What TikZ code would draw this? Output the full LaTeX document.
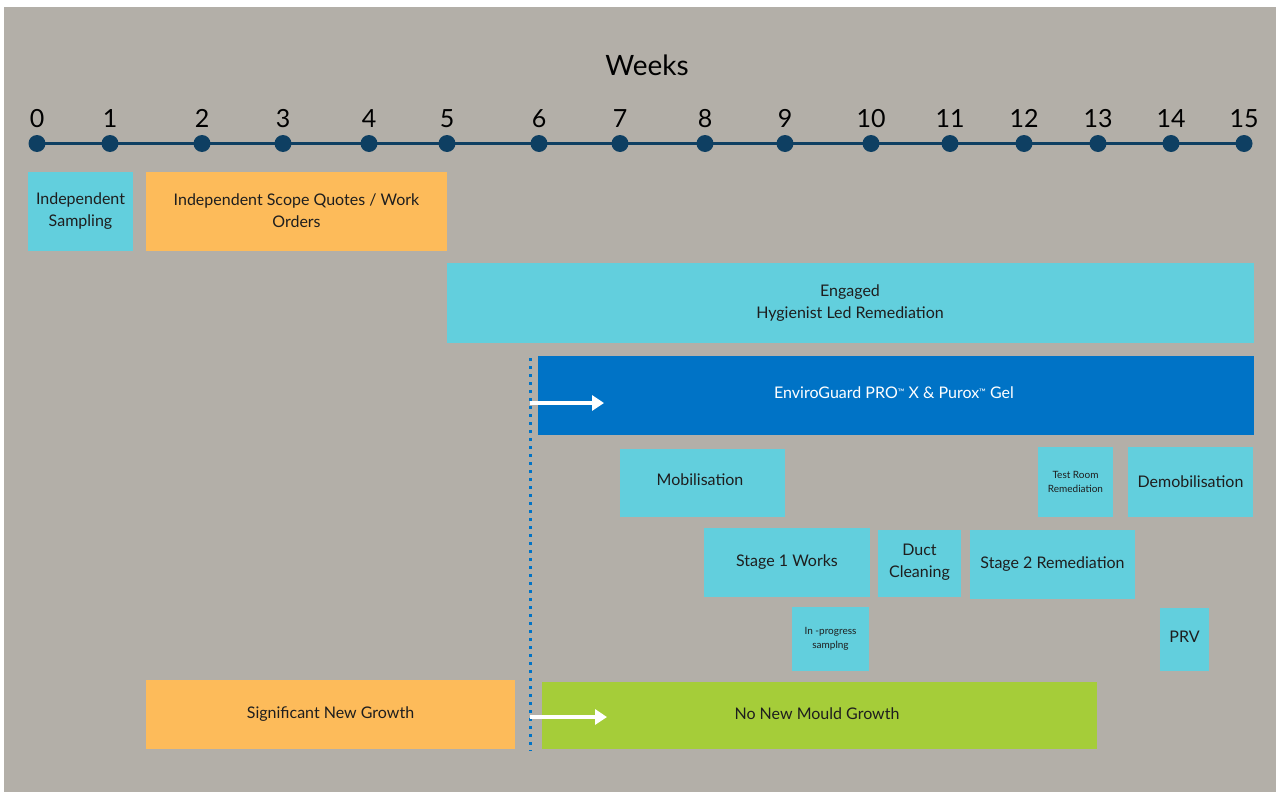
\documentclass[tikz,border=0pt]{standalone}
\usepackage{fontspec}
\setmainfont{Lato}
\usetikzlibrary{arrows.meta}
\definecolor{bgG}{HTML}{B3AFA8}
\definecolor{axisC}{HTML}{0E3F62}
\definecolor{cyanB}{HTML}{62CFDD}
\definecolor{orangeB}{HTML}{FDBB5A}
\definecolor{blueB}{HTML}{0073C6}
\definecolor{greenB}{HTML}{A5CD39}
\definecolor{txtC}{HTML}{1E1E1E}
\newcommand{\tmmark}{\raisebox{3pt}{\fontsize{9}{9}\selectfont ™}}
\tikzset{
  box/.style={inner sep=0pt, align=center, text=txtC, font=\fontsize{16}{22}\selectfont},
  smallbox/.style={inner sep=0pt, align=center, text=txtC, font=\fontsize{10}{14}\selectfont},
  dotn/.style={circle, fill=axisC, minimum size=17pt, inner sep=0pt},
  wk/.style={text=black, font=\fontsize{25}{25}\selectfont},
  warrow/.style={white, line width=3.5pt, -{Triangle[length=12pt,width=15pt]}}
}
\begin{document}
\begin{tikzpicture}[x=1pt,y=-1pt]
\useasboundingbox (0,0) rectangle (1276,792);
\fill[white] (0,0) rectangle (1276,792);
\fill[bgG] (4,7) rectangle (1276,792);

\node[text=black, font=\fontsize{28}{28}\selectfont] (title) at (647,65) {Weeks};

% axis
\foreach \n/\x in {0/37,1/110,2/202,3/283,4/369,5/447,6/539,7/620,8/705,9/785,10/871,11/950,12/1024,13/1098,14/1171,15/1244}{
  \coordinate (d\n) at (\x,143.5);
}
\draw[axisC, line width=3pt] (d0) -- (d15);
\foreach \n in {0,...,15}{
  \node[dotn] (p\n) at (d\n) {};
  \node[wk] (w\n) at ([yshift=25pt]d\n) {\n};
}

% boxes
\fill[cyanB] (28,172) rectangle (133,251);
\node[box] (indsamp) at (80.5,211) {Independent\\Sampling};
\fill[orangeB] (146,172) rectangle (447,251);
\node[box] (quotes) at (296.5,211) {Independent Scope Quotes / Work\\Orders};
\fill[cyanB] (447,263) rectangle (1254,343);
\node[box] (engaged) at (850,303) {Engaged\\Hygienist Led Remediation};
\fill[blueB] (538,356) rectangle (1254,435);
\node[box, text=white] (enviro) at (894,393) {EnviroGuard PRO\tmmark\ X \& Purox\tmmark\ Gel};
\fill[cyanB] (620,449) rectangle (785,517);
\node[box] (mob) at (700,480) {Mobilisation};
\fill[cyanB] (1038,447) rectangle (1113,517);
\node[smallbox] (test) at (1075.5,482) {Test Room\\Remediation};
\fill[cyanB] (1128,447) rectangle (1253,517);
\node[box] (demob) at (1190.5,482) {Demobilisation};
\fill[cyanB] (704,528) rectangle (870,597);
\node[box] (stage1) at (787,562) {Stage 1 Works};
\fill[cyanB] (878,530) rectangle (961,597);
\node[box] (duct) at (919.5,562) {Duct\\Cleaning};
\fill[cyanB] (970,530) rectangle (1135,599);
\node[box] (stage2) at (1052.5,564) {Stage 2 Remediation};
\fill[cyanB] (792,607) rectangle (869,671);
\node[smallbox] (inprog) at (830.5,639) {In -progress\\samplng};
\fill[cyanB] (1160,608) rectangle (1209,671);
\node[box] (prv) at (1184.5,637) {PRV};
\fill[orangeB] (146,680) rectangle (515,749);
\node[box] (sig) at (330.5,714) {Significant New Growth};
\fill[greenB] (542,682) rectangle (1097,749);
\node[box] (nonew) at (817,714) {No New Mould Growth};

% dotted divider
\coordinate (dt) at (530,358);
\coordinate (db) at (530,751);
\draw[blueB, line width=3pt, dash pattern=on 3pt off 5pt] (dt) -- (db);

% arrows
\coordinate (a1s) at (530,403);
\coordinate (a1e) at (604,403);
\coordinate (a2s) at (530,717);
\coordinate (a2e) at (607,717);
\draw[warrow] (a1s) -- (a1e);
\draw[warrow] (a2s) -- (a2e);
\end{tikzpicture}
\end{document}
